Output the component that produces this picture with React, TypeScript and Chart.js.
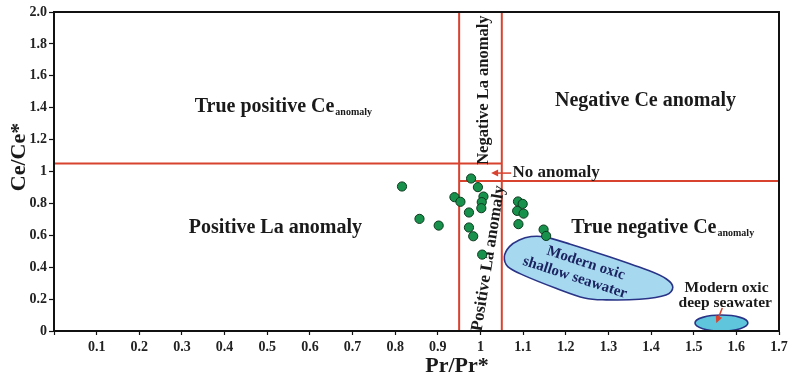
import React, { useEffect, useRef } from 'react';
import { Chart, registerables } from 'chart.js';
Chart.register(...registerables);

// Sample data: Pr/Pr* (x) and Ce/Ce* (y)
const prValues = [0.816, 0.978, 0.994, 1.007, 0.939, 0.953, 1.003, 1.002, 0.973, 0.857, 0.902, 0.973, 0.983, 1.004, 1.088, 1.099, 1.086, 1.101, 1.089, 1.148, 1.154];
const ceValues = [0.906, 0.956, 0.902, 0.843, 0.839, 0.810, 0.808, 0.770, 0.743, 0.703, 0.661, 0.649, 0.594, 0.479, 0.812, 0.797, 0.753, 0.736, 0.670, 0.636, 0.596];

// Field boundaries
const laLower = 0.95;
const laUpper = 1.05;
const ceUpper = 1.05;
const ceLower = 0.94;

// Modern oxic shallow seawater field outline
const shallowX = [1.056, 1.068, 1.091, 1.119, 1.150, 1.209, 1.302, 1.396, 1.436, 1.451, 1.435, 1.373, 1.295, 1.244, 1.177, 1.099, 1.064];
const shallowY = [0.466, 0.529, 0.571, 0.592, 0.590, 0.546, 0.465, 0.377, 0.326, 0.274, 0.226, 0.199, 0.195, 0.207, 0.268, 0.352, 0.404];

// Modern oxic deep seawater field (ellipse centre and radii)
const deepCenter = [1.565, 0.05];
const deepRadius = [0.062, 0.05];

const xTickLabels = ['', '0.1', '0.2', '0.3', '0.4', '0.5', '0.6', '0.7', '0.8', '0.9', '1', '1.1', '1.2', '1.3', '1.4', '1.5', '1.6', '1.7'];
const yTickLabels = ['0', '0.2', '0.4', '0.6', '0.8', '1', '1.2', '1.4', '1.6', '1.8', '2.0'];

const SERIF = '"Liberation Serif", "DejaVu Serif", serif';
const RED = '#d8432f';
const NAVY = '#2a3487';

const overlayPlugin = {
  id: 'overlay',
  beforeDatasetsDraw(chart: any) {
    const ctx = chart.ctx;
    const xs = chart.scales.x;
    const ys = chart.scales.y;
    const X = (v: number) => xs.getPixelForValue(v);
    const Y = (v: number) => ys.getPixelForValue(v);
    const ca = chart.chartArea;
    ctx.save();

    // red boundary lines
    ctx.strokeStyle = RED;
    ctx.lineWidth = 2;
    ctx.beginPath();
    ctx.moveTo(X(laLower), ca.top); ctx.lineTo(X(laLower), ca.bottom);
    ctx.moveTo(X(laUpper), ca.top); ctx.lineTo(X(laUpper), ca.bottom);
    ctx.moveTo(ca.left, Y(ceUpper)); ctx.lineTo(X(laUpper), Y(ceUpper));
    ctx.moveTo(X(laLower), Y(ceLower)); ctx.lineTo(ca.right, Y(ceLower));
    ctx.stroke();

    // shallow seawater blob (closed Catmull-Rom)
    const pts = shallowX.map((x, i) => [X(x), Y(shallowY[i])]);
    const n = pts.length;
    ctx.beginPath();
    ctx.moveTo(pts[0][0], pts[0][1]);
    for (let i = 0; i < n; i++) {
      const p0 = pts[(i - 1 + n) % n], p1 = pts[i], p2 = pts[(i + 1) % n], p3 = pts[(i + 2) % n];
      const c1x = p1[0] + (p2[0] - p0[0]) / 6, c1y = p1[1] + (p2[1] - p0[1]) / 6;
      const c2x = p2[0] - (p3[0] - p1[0]) / 6, c2y = p2[1] - (p3[1] - p1[1]) / 6;
      ctx.bezierCurveTo(c1x, c1y, c2x, c2y, p2[0], p2[1]);
    }
    ctx.closePath();
    ctx.fillStyle = '#a6d8f0';
    ctx.fill();
    ctx.strokeStyle = NAVY;
    ctx.lineWidth = 1.6;
    ctx.stroke();

    // deep seawater ellipse
    const cx = X(deepCenter[0]), cy = Y(deepCenter[1]);
    const rx = Math.abs(X(deepCenter[0] + deepRadius[0]) - cx);
    const ry = Math.abs(Y(deepCenter[1] + deepRadius[1]) - cy);
    ctx.beginPath();
    ctx.ellipse(cx, cy, rx, ry, 0, 0, Math.PI * 2);
    ctx.fillStyle = '#5ec5dc';
    ctx.fill();
    ctx.strokeStyle = NAVY;
    ctx.lineWidth = 1.6;
    ctx.stroke();

    // texts
    const font = (s: number) => `bold ${s}px ${SERIF}`;
    ctx.fillStyle = '#1a1a1a';
    ctx.textBaseline = 'middle';

    const subText = (main: string, sub: string, x: number, y: number, size: number) => {
      ctx.textAlign = 'left';
      ctx.font = font(size);
      ctx.fillText(main, x, y);
      const w = ctx.measureText(main).width;
      ctx.font = font(Math.round(size * 0.52));
      ctx.fillText(sub, x + w + 1, y + 6);
    };

    subText('True positive Ce', 'anomaly', X(0.33), Y(1.405), 20);
    subText('True negative Ce', 'anomaly', X(1.213), Y(0.647), 20);

    ctx.textAlign = 'center';
    ctx.font = font(20);
    ctx.fillText('Negative Ce anomaly', X(1.387), Y(1.444));
    ctx.fillText('Positive La anomaly', X(0.519), Y(0.647));

    // vertical labels
    ctx.font = font(16.5);
    ctx.save();
    ctx.translate(X(1.007), Y(1.51));
    ctx.rotate(-Math.PI / 2);
    ctx.fillText('Negative La anomaly', 0, 0);
    ctx.restore();

    ctx.font = font(17);
    ctx.save();
    ctx.translate(X(1.019), Y(0.455));
    ctx.rotate(-81 * Math.PI / 180);
    ctx.fillText('Positive La anomaly', 0, 0);
    ctx.restore();

    // No anomaly + arrow
    ctx.textAlign = 'left';
    ctx.font = font(17);
    ctx.fillText('No anomaly', X(1.075), Y(0.99));
    const ax0 = X(1.072), ax1 = X(1.025), ay = Y(0.99);
    ctx.strokeStyle = RED;
    ctx.fillStyle = RED;
    ctx.lineWidth = 1.5;
    ctx.beginPath();
    ctx.moveTo(ax0, ay); ctx.lineTo(ax1 + 5, ay);
    ctx.stroke();
    ctx.beginPath();
    ctx.moveTo(ax1, ay); ctx.lineTo(ax1 + 7, ay - 3.5); ctx.lineTo(ax1 + 7, ay + 3.5);
    ctx.closePath();
    ctx.fill();

    // shallow label
    ctx.fillStyle = '#1c2460';
    ctx.textAlign = 'center';
    ctx.font = font(15);
    ctx.save();
    ctx.translate(X(1.2345), Y(0.383));
    ctx.rotate(18 * Math.PI / 180);
    ctx.fillText('Modern oxic', 3, -8);
    ctx.fillText('shallow seawater', -3, 9);
    ctx.restore();

    // deep label
    ctx.fillStyle = '#1a1a1a';
    ctx.font = font(15.5);
    ctx.fillText('Modern oxic', X(1.577), Y(0.27));
    ctx.fillText('deep seawater', X(1.574), Y(0.176));
    const dx0 = X(1.567), dy0 = Y(0.144), dx1 = X(1.553), dy1 = Y(0.05);
    ctx.strokeStyle = RED;
    ctx.fillStyle = RED;
    ctx.lineWidth = 1.5;
    ctx.beginPath();
    const ang = Math.atan2(dy1 - dy0, dx1 - dx0);
    ctx.moveTo(dx0, dy0); ctx.lineTo(dx1 - 5 * Math.cos(ang), dy1 - 5 * Math.sin(ang));
    ctx.stroke();
    ctx.beginPath();
    ctx.moveTo(dx1, dy1);
    ctx.lineTo(dx1 - 7 * Math.cos(ang) + 3.5 * Math.sin(ang), dy1 - 7 * Math.sin(ang) - 3.5 * Math.cos(ang));
    ctx.lineTo(dx1 - 7 * Math.cos(ang) - 3.5 * Math.sin(ang), dy1 - 7 * Math.sin(ang) + 3.5 * Math.cos(ang));
    ctx.closePath();
    ctx.fill();

    ctx.restore();
  },
  afterDraw(chart: any) {
    const ctx = chart.ctx;
    const ca = chart.chartArea;
    ctx.save();
    ctx.strokeStyle = '#111';
    ctx.lineWidth = 2;
    ctx.strokeRect(ca.left, ca.top, ca.right - ca.left, ca.bottom - ca.top);
    // axis titles
    ctx.fillStyle = '#1a1a1a';
    ctx.font = `bold 22px ${SERIF}`;
    ctx.textAlign = 'center';
    ctx.textBaseline = 'middle';
    ctx.fillText('Pr/Pr*', 457, 366);
    ctx.save();
    ctx.translate(19, 157);
    ctx.rotate(-Math.PI / 2);
    ctx.fillText('Ce/Ce*', 0, 0);
    ctx.restore();
    ctx.restore();
  },
};

export default function App() {
  const ref = useRef<HTMLCanvasElement>(null);
  useEffect(() => {
    document.body.style.margin = '0';
    const chart = new Chart(ref.current!, {
      type: 'scatter',
      data: {
        datasets: [
          {
            label: 'Samples',
            data: prValues.map((x, i) => ({ x, y: ceValues[i] })),
            backgroundColor: '#17914b',
            borderColor: '#0b3a1d',
            borderWidth: 1,
            pointRadius: 4.6,
          },
        ],
      },
      options: {
        responsive: false,
        animation: false,
        layout: { padding: { top: 12, right: 9, left: 0, bottom: 0 } },
        plugins: { legend: { display: false }, tooltip: { enabled: false } },
        scales: {
          x: {
            type: 'linear',
            min: 0,
            max: 1.7,
            afterFit: (s: any) => { s.height = 48; s.paddingRight = 0; s.paddingLeft = 0; },
            border: { display: true, color: '#111', width: 2 },
            grid: { drawOnChartArea: false, drawTicks: true, tickLength: 4, color: '#111', tickWidth: 1.2 },
            ticks: {
              stepSize: 0.1,
              padding: 4,
              color: '#222',
              font: { family: SERIF, size: 14, weight: 'bold' },
              maxRotation: 0,
              autoSkip: false,
              callback: (v: any) => xTickLabels[Math.round(Number(v) * 10)] ?? '',
            },
          },
          y: {
            type: 'linear',
            min: 0,
            max: 2,
            afterFit: (s: any) => { s.width = 54; s.paddingTop = 0; s.paddingBottom = 0; },
            border: { display: true, color: '#111', width: 2 },
            grid: { drawOnChartArea: false, drawTicks: true, tickLength: 5, color: '#111', tickWidth: 1.2 },
            ticks: {
              stepSize: 0.2,
              padding: 2,
              color: '#222',
              font: { family: SERIF, size: 14, weight: 'bold' },
              autoSkip: false,
              callback: (v: any) => yTickLabels[Math.round(Number(v) * 5)] ?? '',
            },
          },
        },
      },
      plugins: [overlayPlugin],
    } as any);
    return () => chart.destroy();
  }, []);
  return <canvas ref={ref} width={788} height={379} style={{ display: 'block' }} />;
}
